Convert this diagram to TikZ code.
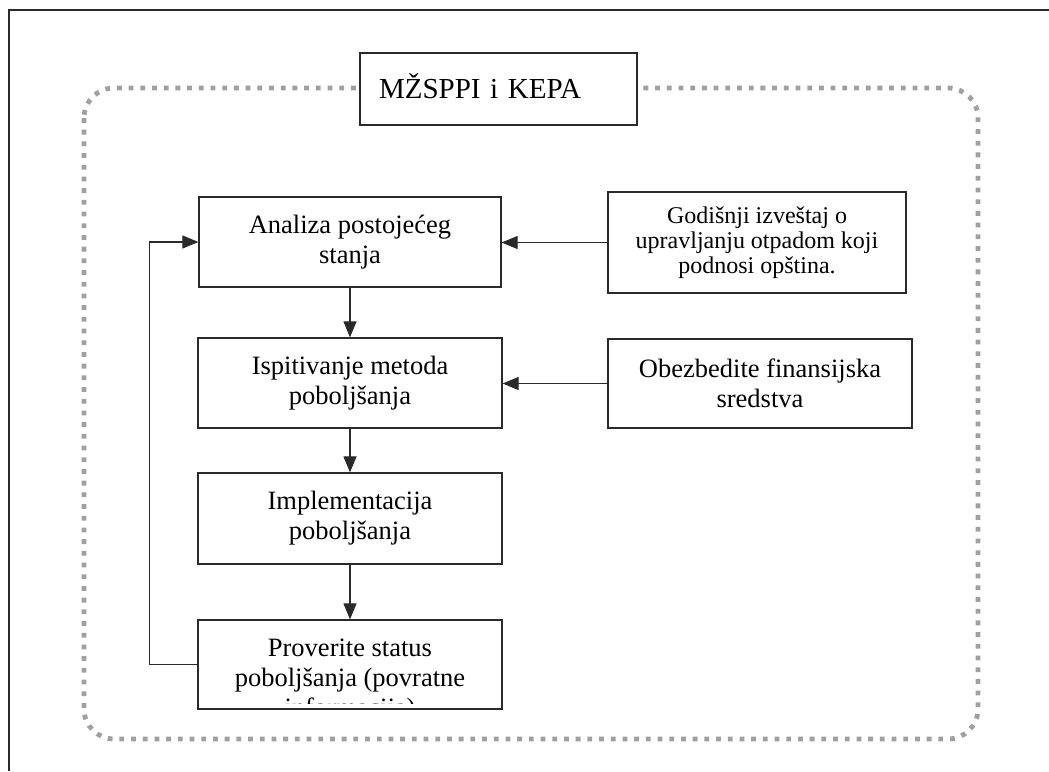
\documentclass[tikz,border=0pt]{standalone}
\usepackage{fontspec}
\setmainfont{Liberation Serif}
\usetikzlibrary{arrows.meta}
\definecolor{dotgray}{HTML}{A0A0A3}
\definecolor{linec}{HTML}{2A2A2A}
\begin{document}
\begin{tikzpicture}[x=1pt,y=-1pt,
  box/.style={draw=linec, line width=1.2pt, fill=white, inner sep=0pt, align=center,
    font=\fontsize{26.5}{30}\selectfont},
  smallbox/.style={box, font=\fontsize{24}{25}\selectfont},
  arr/.style={line width=1.1pt, draw=linec, -{Triangle[length=16pt,width=13pt]}},
  frame/.style={draw=linec, line width=1.3pt},
  dotframe/.style={draw=dotgray, line width=4.8pt, dash pattern=on 4.8pt off 6.9pt, rounded corners=30pt}]
\useasboundingbox (0,0) rectangle (1049,771);
% outer frame (only top and left edges are visible)
\draw[frame] (1049,10) -- (9,10) -- (9,771);
% dotted rounded border
\draw[dotframe] (84,88) rectangle (978,739);
% title
\node[draw=linec, line width=1.2pt, fill=white, minimum width=277pt, minimum height=72pt,
  inner xsep=19pt, inner ysep=0pt, text width=239pt, align=left, text height=22pt, text depth=4pt,
  font=\fontsize{29}{32}\selectfont] (title) at (498.5,89) {MŽSPPI i KEPA};
% main chain
\node[box, minimum width=302pt, minimum height=90pt] (anal) at (350,242) {Analiza postojećeg\\stanja};
\node[box, minimum width=304pt, minimum height=90pt] (isp) at (350,383) {Ispitivanje metoda\\poboljšanja};
\node[box, minimum width=304pt, minimum height=91pt] (impl) at (350,518.5) {Implementacija\\poboljšanja};
\node[box, minimum width=304pt, minimum height=89pt] (prov) at (350,664.5) {};
\begin{scope}
  \clip ([yshift=6pt]prov.south west) rectangle (prov.north east);
  \node[font=\fontsize{26.5}{30}\selectfont, align=center, inner sep=0pt, anchor=north] (provtext)
    at (350,639) {Proverite status\\poboljšanja (povratne\\informacija)};
\end{scope}
% right boxes
\node[smallbox, minimum width=298pt, minimum height=101pt] (god) at (757,242.5) {Godišnji izveštaj o\\upravljanju otpadom koji\\podnosi opština.};
\node[box, minimum width=304pt, minimum height=89pt] (obz) at (760,383.5) {Obezbedite finansijska\\sredstva};
% connectors
\draw[arr] (anal) -- (isp);
\draw[arr] (isp) -- (impl);
\draw[arr] (impl) -- (prov);
\draw[arr] (god.west) -- (god.west -| anal.east);
\draw[arr] (obz.west) -- (obz.west -| isp.east);
\draw[arr] (prov.west) -- ++(-48,0) |- (anal.west);
\end{tikzpicture}
\end{document}
